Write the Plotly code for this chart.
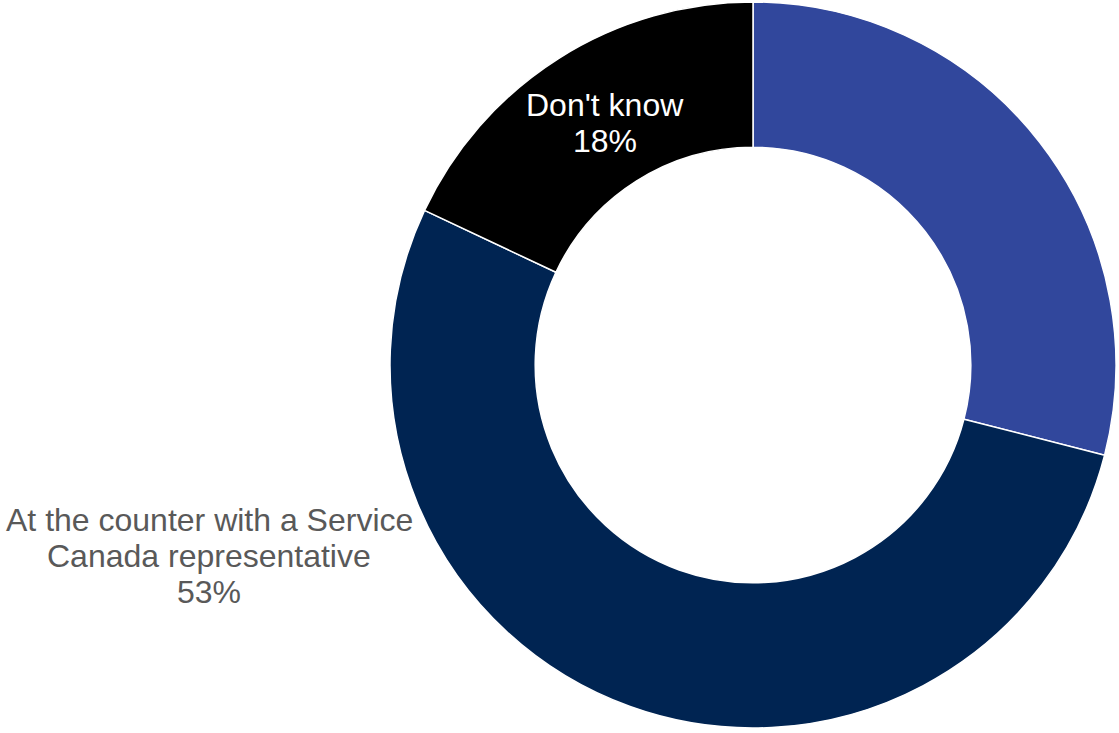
import plotly.graph_objects as go

categories = ["Online", "At the counter with a Service<br>Canada representative", "Don't know"]
values = [29, 53, 18]
colors = ["#31479C", "#002452", "#000000"]
label_colors = [None, "#595959", "#FFFFFF"]
# label anchor (pixel centre of the first line) for visible labels
label_pos = [None, (209, 520), (605, 105)]
LINE = 36

W, H = 1119, 733
FONT = "Arial"

fig = go.Figure(go.Pie(
    labels=categories,
    values=values,
    hole=0.6,
    sort=False,
    direction="clockwise",
    rotation=0,
    marker=dict(colors=colors, line=dict(color="white", width=1.5)),
    textinfo="none",
    showlegend=False,
    hoverinfo="label+percent",
    domain=dict(x=[(753 - 363) / W, (753 + 363) / W], y=[(H - 728) / H, (H - 2) / H]),
))

for cat, val, col, pos in zip(categories, values, label_colors, label_pos):
    if pos is None:
        continue
    lines = cat.split("<br>") + [f"{val}%"]
    for i, ln in enumerate(lines):
        fig.add_annotation(
            x=pos[0] / W, y=1 - (pos[1] + i * LINE) / H, xref="paper", yref="paper",
            text=ln, showarrow=False, align="center",
            font=dict(color=col, size=32, family=FONT),
            xanchor="center", yanchor="middle",
        )

fig.update_layout(
    width=W, height=H,
    margin=dict(l=0, r=0, t=0, b=0),
    paper_bgcolor="white", plot_bgcolor="white",
    font=dict(family=FONT),
)

fig.write_html("out.html", config={"displayModeBar": False},
               post_script="document.body.style.margin='0';")
